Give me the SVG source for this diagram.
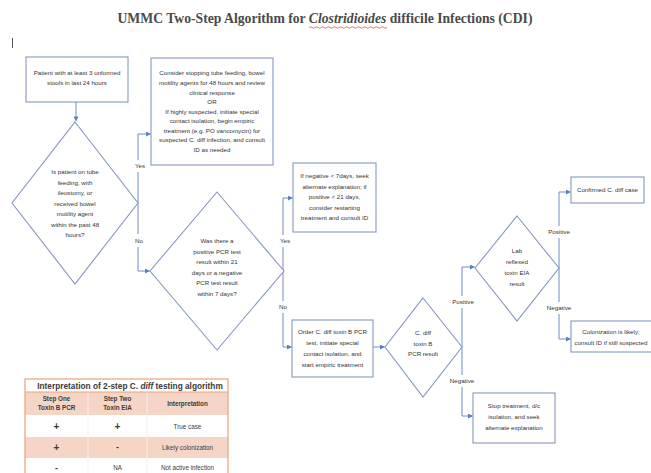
<svg xmlns="http://www.w3.org/2000/svg" width="651" height="473" viewBox="0 0 651 473">
<style>
  .box{fill:#fff;stroke:#8597c0;stroke-width:1.1}
  .dia{fill:#fff;stroke:#8597c0;stroke-width:1.1}
  .t{font-family:"Liberation Sans",Arial,sans-serif;font-size:6.2px;fill:#333;text-anchor:middle}
  .lbl{font-family:"Liberation Sans",Arial,sans-serif;font-size:6.2px;fill:#333;text-anchor:middle}
  .con{fill:none;stroke:#6f8cc4;stroke-width:1;marker-end:url(#ah)}
  .seg{fill:none;stroke:#6f8cc4;stroke-width:1}
  .tb{font-family:"Liberation Sans",Arial,sans-serif;fill:#3a3a3a;text-anchor:middle}
  .ttl{font-family:"Liberation Serif","Times New Roman",serif;font-weight:bold;font-size:15px;fill:#4a4a4a}
  .tbt{font-family:"Liberation Sans",Arial,sans-serif;font-weight:bold;font-size:8.3px;fill:#3a3a3a}
</style>
<defs>
  <marker id="ah" viewBox="0 0 6 6" refX="5.5" refY="3" markerWidth="5" markerHeight="5" orient="auto" markerUnits="userSpaceOnUse">
    <path d="M0,0 L6,3 L0,6 z" fill="#5b7fc0"/>
  </marker>
</defs>
<rect width="651" height="473" fill="#fff"/>
<g id="title">
  <text class="ttl" x="325" y="23" text-anchor="middle" transform="translate(325,0) scale(0.912,1) translate(-325,0)">UMMC Two-Step Algorithm for <tspan font-style="italic">Clostridioides</tspan> difficile Infections (CDI)</text>
  <path d="M309 27.5 q1.5 -1.5 3 0 t3 0 t3 0 t3 0 t3 0 t3 0 t3 0 t3 0 t3 0 t3 0 t3 0 t3 0 t3 0 t3 0 t3 0 t3 0 t3 0 t3 0 t3 0 t3 0 t3 0 t3 0 t3 0 t3 0 t3 0 t3 0" fill="none" stroke="#e05050" stroke-width="0.8"/>
  <line x1="12.5" y1="38" x2="12.5" y2="48" stroke="#555" stroke-width="1"/>
</g>
<g id="connectors">
  <path class="con" d="M76 102 V121"/>
  <path class="seg" d="M138 203 V172"/>
  <path class="con" d="M138 160 V134 H150.5"/>
  <path class="seg" d="M138 203 V234"/>
  <path class="con" d="M138 247 V271 H149.5"/>
  <path class="seg" d="M283 271 V247"/>
  <path class="con" d="M283 235 V198 H292.5"/>
  <path class="seg" d="M283 271 V301"/>
  <path class="con" d="M283 313 V347 H291.5"/>
  <path class="con" d="M373 347 H384.5"/>
  <path class="seg" d="M462 347 V308"/>
  <path class="con" d="M462 296 V267 H474.5"/>
  <path class="seg" d="M462 347 V375"/>
  <path class="con" d="M462 387 V416 H472.5"/>
  <path class="seg" d="M559 268 V238"/>
  <path class="con" d="M559 226 V192 H570.5"/>
  <path class="seg" d="M559 268 V302"/>
  <path class="con" d="M559 314 V339 H570.5"/>
  <text class="lbl" x="140" y="168">Yes</text>
  <text class="lbl" x="139" y="243">No</text>
  <text class="lbl" x="285" y="243">Yes</text>
  <text class="lbl" x="283" y="309">No</text>
  <text class="lbl" x="463" y="304">Positive</text>
  <text class="lbl" x="462" y="383">Negative</text>
  <text class="lbl" x="559" y="234">Positive</text>
  <text class="lbl" x="559" y="310">Negative</text>
</g>
<g id="n1">
  <rect class="box" x="26" y="57" width="102" height="45"/>
  <text class="t" x="77" y="75">Patient with at least 3 unformed</text>
  <text class="t" x="77" y="85">stools in last 24 hours</text>
</g>
<g id="n2">
  <polygon class="dia" points="75,122 138,203 75,284 12,203"/>
  <text class="t" x="75" y="174">Is patient on tube</text>
  <text class="t" x="75" y="184.5">feeding, with</text>
  <text class="t" x="75" y="195">ileostomy, or</text>
  <text class="t" x="75" y="205.5">received bowel</text>
  <text class="t" x="75" y="216">motility agent</text>
  <text class="t" x="75" y="226.5">within the past 48</text>
  <text class="t" x="75" y="237">hours?</text>
</g>
<g id="n3">
  <rect class="box" x="151" y="58" width="122" height="107"/>
  <text class="t" x="212" y="75">Consider stopping tube feeding, bowel</text>
  <text class="t" x="212" y="85">motility agents for 48 hours and review</text>
  <text class="t" x="212" y="94.5">clinical response</text>
  <text class="t" x="212" y="104">OR</text>
  <text class="t" x="212" y="113.5">If highly suspected, initiate special</text>
  <text class="t" x="212" y="123">contact isolation, begin empiric</text>
  <text class="t" x="212" y="132.5">treatment (e.g. PO vancomycin) for</text>
  <text class="t" x="212" y="142">suspected C. diff infection, and consult</text>
  <text class="t" x="212" y="151.5">ID as needed</text>
</g>
<g id="n4">
  <polygon class="dia" points="217,192 284,271 217,350 150,271"/>
  <text class="t" x="217" y="243">Was there a</text>
  <text class="t" x="217" y="253.5">positive PCR test</text>
  <text class="t" x="217" y="264">result within 21</text>
  <text class="t" x="217" y="274.5">days or a negative</text>
  <text class="t" x="217" y="285">PCR test result</text>
  <text class="t" x="217" y="295.5">within 7 days?</text>
</g>
<g id="n5">
  <rect class="box" x="293" y="163" width="83" height="69"/>
  <text class="t" x="334.5" y="178">If negative &lt; 7days, seek</text>
  <text class="t" x="334.5" y="188.5">alternate explanation; if</text>
  <text class="t" x="334.5" y="199">positive &lt; 21 days,</text>
  <text class="t" x="334.5" y="209.5">consider restarting</text>
  <text class="t" x="334.5" y="220">treatment and consult ID</text>
</g>
<g id="n6">
  <rect class="box" x="292" y="320" width="81" height="57"/>
  <text class="t" x="332.5" y="334">Order C. diff toxin B PCR</text>
  <text class="t" x="332.5" y="345">test, initiate special</text>
  <text class="t" x="332.5" y="356">contact isolation, and</text>
  <text class="t" x="332.5" y="367">start empiric treatment</text>
</g>
<g id="n7">
  <polygon class="dia" points="423,298 462,347 423,397 385,347"/>
  <text class="t" x="423" y="335">C. diff</text>
  <text class="t" x="423" y="345.5">toxin B</text>
  <text class="t" x="423" y="356">PCR result</text>
</g>
<g id="n8">
  <polygon class="dia" points="517,216 559,268 517,321 475,268"/>
  <text class="t" x="517" y="253">Lab</text>
  <text class="t" x="517" y="264">reflexed</text>
  <text class="t" x="517" y="275">toxin EIA</text>
  <text class="t" x="517" y="286">result</text>
</g>
<g id="n9">
  <rect class="box" x="571" y="177" width="73" height="26"/>
  <text class="t" x="607.5" y="192">Confirmed C. diff case</text>
</g>
<g id="n10">
  <rect class="box" x="571" y="321" width="82" height="31"/>
  <text class="t" x="611" y="334">Colonization is likely;</text>
  <text class="t" x="611" y="345">consult ID if still suspected</text>
</g>
<g id="n11">
  <rect class="box" x="473" y="393" width="82" height="50"/>
  <text class="t" x="514" y="408">Stop treatment, d/c</text>
  <text class="t" x="514" y="419">isolation, and seek</text>
  <text class="t" x="514" y="430">alternate explanation</text>
</g>
<g id="table">
  <rect x="25" y="392" width="203" height="23" fill="#f5d6c6"/>
  <rect x="25" y="437" width="203" height="21" fill="#f5d6c6"/>
  <rect x="25" y="379" width="203" height="13" fill="#fff"/>
  <line x1="88" y1="392" x2="88" y2="473" stroke="#fbeee6" stroke-width="1"/>
  <line x1="147" y1="392" x2="147" y2="473" stroke="#fbeee6" stroke-width="1"/>
  <line x1="25" y1="392" x2="228" y2="392" stroke="#e9a17a" stroke-width="1"/>
  <rect x="25" y="379" width="203" height="100" fill="none" stroke="#e9a17a" stroke-width="1.2"/>
  <text class="tbt" x="130" y="389" text-anchor="middle">Interpretation of 2-step C. <tspan font-style="italic">diff</tspan> testing algorithm</text>
  <text class="tb" x="56.5" y="401" font-weight="bold" font-size="6.3">Step One</text>
  <text class="tb" x="56.5" y="409.5" font-weight="bold" font-size="6.3">Toxin B PCR</text>
  <text class="tb" x="117.5" y="401" font-weight="bold" font-size="6.3">Step Two</text>
  <text class="tb" x="117.5" y="409.5" font-weight="bold" font-size="6.3">Toxin EIA</text>
  <text class="tb" x="187.5" y="406" font-weight="bold" font-size="6.3">Interpretation</text>
  <text class="tb" x="56.5" y="430" font-weight="bold" font-size="10">+</text>
  <text class="tb" x="117.5" y="430" font-weight="bold" font-size="10">+</text>
  <text class="tb" x="187.5" y="429" font-size="6.3">True case</text>
  <text class="tb" x="56.5" y="451" font-weight="bold" font-size="10">+</text>
  <text class="tb" x="117.5" y="450" font-weight="bold" font-size="9">-</text>
  <text class="tb" x="187.5" y="449.5" font-size="6.3">Likely colonization</text>
  <text class="tb" x="56.5" y="471" font-weight="bold" font-size="9">-</text>
  <text class="tb" x="117.5" y="470" font-size="6.3">NA</text>
  <text class="tb" x="187.5" y="470" font-size="6.3">Not active infection</text>
</g>
</svg>
